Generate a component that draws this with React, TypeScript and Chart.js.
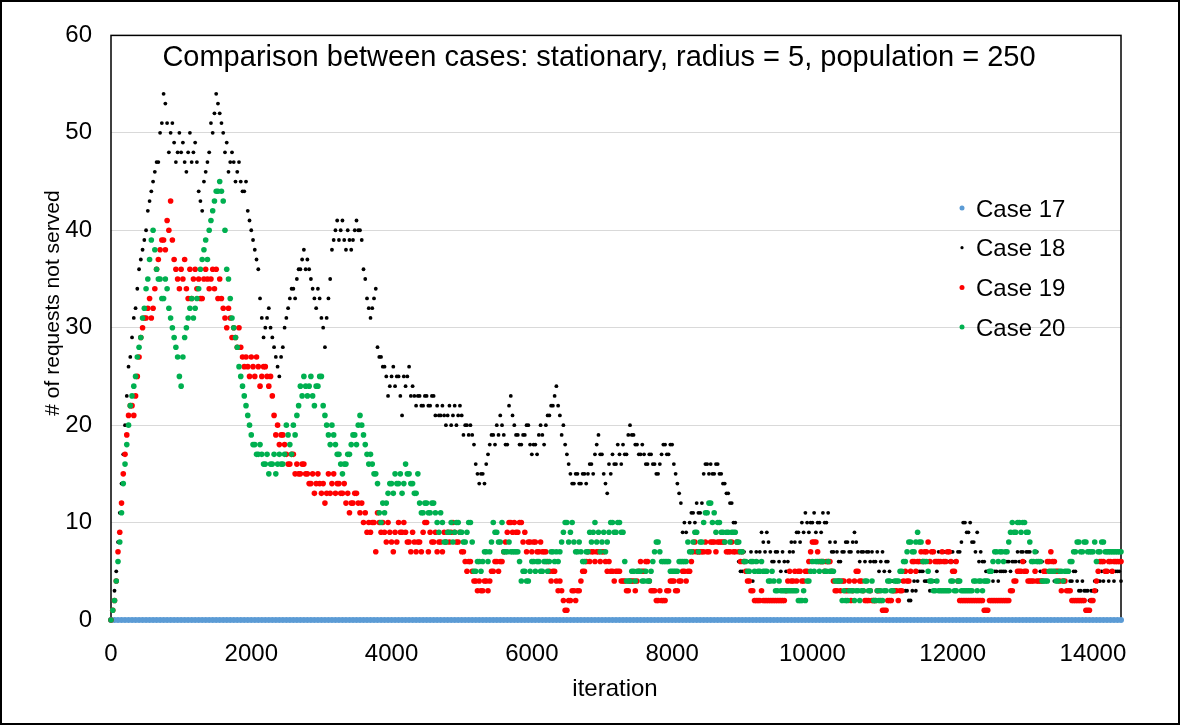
import { useEffect, useRef } from 'react'
import Chart from 'chart.js/auto'
import type { Plugin } from 'chart.js'

// samples every STEP iterations from 0 to X_MAX; the *Half arrays sit halfway between them
const STEP = 50
const X_MAX = 14400
const X_TICKS = [0, 2000, 4000, 6000, 8000, 10000, 12000, 14000]
const Y_MAX = 60
const Y_STEP = 10

const TITLE = 'Comparison between cases: stationary, radius = 5, population = 250'
const X_LABEL = 'iteration'
const Y_LABEL = '# of requests not served'

const SERIES_NAMES = ['Case 17', 'Case 18', 'Case 19', 'Case 20']
const SERIES_COLORS = ['#5B9BD5', '#000000', '#FF0000', '#00B050']
const POINT_RADII = [3, 1.9, 2.8, 2.8]
const LEGEND_RADII = [2.5, 1.6, 2.5, 2.5]

const case17 = [
  0, 0, 0, 0, 0, 0, 0, 0, 0, 0, 0, 0, 0, 0, 0, 0, 0, 0, 0, 0,
  0, 0, 0, 0, 0, 0, 0, 0, 0, 0, 0, 0, 0, 0, 0, 0, 0, 0, 0, 0,
  0, 0, 0, 0, 0, 0, 0, 0, 0, 0, 0, 0, 0, 0, 0, 0, 0, 0, 0, 0,
  0, 0, 0, 0, 0, 0, 0, 0, 0, 0, 0, 0, 0, 0, 0, 0, 0, 0, 0, 0,
  0, 0, 0, 0, 0, 0, 0, 0, 0, 0, 0, 0, 0, 0, 0, 0, 0, 0, 0, 0,
  0, 0, 0, 0, 0, 0, 0, 0, 0, 0, 0, 0, 0, 0, 0, 0, 0, 0, 0, 0,
  0, 0, 0, 0, 0, 0, 0, 0, 0, 0, 0, 0, 0, 0, 0, 0, 0, 0, 0, 0,
  0, 0, 0, 0, 0, 0, 0, 0, 0, 0, 0, 0, 0, 0, 0, 0, 0, 0, 0, 0,
  0, 0, 0, 0, 0, 0, 0, 0, 0, 0, 0, 0, 0, 0, 0, 0, 0, 0, 0, 0,
  0, 0, 0, 0, 0, 0, 0, 0, 0, 0, 0, 0, 0, 0, 0, 0, 0, 0, 0, 0,
  0, 0, 0, 0, 0, 0, 0, 0, 0, 0, 0, 0, 0, 0, 0, 0, 0, 0, 0, 0,
  0, 0, 0, 0, 0, 0, 0, 0, 0, 0, 0, 0, 0, 0, 0, 0, 0, 0, 0, 0,
  0, 0, 0, 0, 0, 0, 0, 0, 0, 0, 0, 0, 0, 0, 0, 0, 0, 0, 0, 0,
  0, 0, 0, 0, 0, 0, 0, 0, 0, 0, 0, 0, 0, 0, 0, 0, 0, 0, 0, 0,
  0, 0, 0, 0, 0, 0, 0, 0, 0,
]

const case18 = [
  0, 3, 8, 14, 20, 26, 29, 32, 36, 38, 40, 43, 45, 47, 50, 54, 51, 50, 49, 48,
  48, 47, 48, 47, 49, 44, 42, 46, 48, 50, 54, 52, 50, 49, 47, 47, 46, 45, 44, 42,
  40, 38, 36, 31, 30, 32, 29, 27, 25, 28, 31, 33, 34, 35, 36, 38, 37, 35, 33, 34,
  31, 28, 33, 38, 40, 39, 41, 38, 39, 39, 41, 40, 36, 33, 31, 33, 28, 27, 26, 23,
  25, 24, 25, 21, 24, 26, 24, 22, 23, 22, 23, 22, 23, 22, 21, 21, 21, 20, 22, 21,
  21, 20, 19, 19, 16, 14, 15, 16, 18, 19, 20, 21, 19, 18, 23, 20, 19, 18, 19, 20,
  17, 18, 19, 19, 20, 21, 22, 24, 21, 20, 17, 15, 14, 15, 14, 15, 15, 16, 17, 19,
  17, 14, 16, 17, 16, 17, 18, 17, 20, 19, 18, 17, 17, 16, 17, 16, 15, 17, 18, 17,
  18, 15, 13, 9, 9, 10, 11, 12, 11, 15, 16, 16, 15, 16, 15, 14, 13, 12, 10, 6,
  5, 6, 6, 4, 7, 7, 8, 9, 7, 6, 7, 5, 6, 6, 8, 8, 9, 10, 11, 9,
  10, 9, 10, 11, 10, 8, 7, 7, 6, 7, 8, 7, 9, 7, 7, 6, 7, 7, 6, 5,
  7, 6, 5, 4, 4, 3, 4, 3, 2, 4, 4, 5, 4, 4, 4, 4, 7, 7, 7, 6,
  7, 6, 7, 10, 9, 10, 8, 9, 7, 6, 5, 5, 5, 4, 5, 5, 6, 6, 6, 6,
  7, 7, 7, 6, 7, 5, 5, 5, 5, 4, 5, 5, 5, 5, 4, 5, 3, 4, 3, 2,
  3, 3, 4, 4, 5, 5, 4, 5, 4,
]

const case18Half = [
  1, 5, 11, 17, 23, 27, 31, 34, 37, 39, 42, 44, 46, 47, 51, 53, 48, 51, 47, 50,
  49, 46, 50, 48, 47, 43, 45, 47, 51, 52, 53, 51, 48, 46, 48, 45, 47, 44, 45, 41,
  39, 37, 33, 29, 31, 30, 28, 26, 27, 30, 32, 34, 33, 36, 37, 36, 36, 34, 32, 33,
  30, 31, 35, 39, 41, 40, 39, 40, 38, 40, 40, 39, 35, 32, 32, 34, 27, 26, 25, 24,
  26, 25, 23, 25, 25, 23, 23, 23, 22, 23, 22, 23, 21, 21, 22, 20, 22, 21, 20, 22,
  19, 20, 20, 18, 15, 15, 14, 17, 19, 18, 19, 20, 18, 22, 21, 19, 18, 19, 20, 18,
  18, 17, 20, 18, 21, 22, 23, 22, 19, 18, 16, 14, 15, 14, 15, 14, 16, 15, 18, 17,
  15, 13, 15, 16, 18, 16, 17, 19, 19, 18, 17, 18, 16, 17, 16, 15, 16, 18, 17, 18,
  16, 14, 12, 10, 8, 11, 10, 11, 12, 16, 15, 15, 16, 15, 14, 13, 12, 10, 8, 5,
  7, 5, 7, 5, 6, 9, 7, 8, 6, 7, 6, 7, 5, 7, 7, 9, 8, 9, 10, 10,
  11, 10, 9, 10, 11, 7, 8, 6, 7, 8, 7, 8, 8, 6, 7, 7, 6, 6, 7, 6,
  5, 6, 4, 3, 4, 4, 3, 2, 3, 3, 5, 5, 4, 3, 4, 5, 6, 7, 6, 7,
  6, 7, 8, 10, 9, 8, 7, 6, 6, 5, 5, 4, 5, 5, 5, 6, 5, 6, 7, 7,
  6, 7, 6, 7, 6, 6, 5, 5, 5, 5, 5, 4, 5, 4, 5, 4, 3, 3, 3, 3,
  4, 4, 5, 5, 4, 5, 5, 5,
]

const case19 = [
  0, 2, 7, 12, 17, 21, 22, 23, 27, 30, 31, 33, 32, 36, 38, 39, 41, 43, 37, 35,
  36, 37, 33, 33, 36, 35, 33, 36, 34, 36, 36, 35, 32, 30, 31, 30, 28, 28, 26, 26,
  27, 25, 26, 25, 26, 24, 23, 19, 18, 19, 17, 16, 17, 16, 15, 16, 15, 14, 13, 15,
  13, 12, 15, 14, 13, 14, 13, 12, 11, 12, 13, 11, 10, 9, 9, 10, 11, 9, 9, 10,
  8, 9, 10, 9, 9, 8, 9, 7, 8, 9, 10, 9, 8, 7, 8, 9, 9, 9, 9, 8,
  7, 6, 6, 5, 4, 4, 3, 4, 4, 5, 6, 6, 7, 9, 10, 10, 9, 10, 9, 8,
  7, 8, 7, 7, 7, 5, 5, 4, 4, 2, 1, 2, 3, 3, 4, 5, 7, 7, 6, 7,
  7, 6, 6, 5, 5, 5, 4, 3, 4, 4, 4, 6, 5, 6, 3, 3, 2, 2, 2, 3,
  4, 3, 4, 5, 4, 5, 7, 7, 7, 7, 7, 8, 8, 8, 8, 8, 7, 8, 7, 7,
  7, 5, 4, 3, 2, 2, 2, 2, 2, 2, 2, 2, 2, 4, 4, 5, 5, 4, 5, 6,
  8, 8, 6, 6, 6, 6, 4, 3, 3, 4, 3, 2, 4, 5, 4, 2, 2, 2, 2, 3,
  1, 1, 2, 3, 3, 3, 4, 4, 5, 6, 6, 7, 7, 8, 7, 6, 6, 7, 6, 7,
  5, 6, 2, 2, 2, 2, 2, 2, 2, 1, 1, 2, 2, 2, 2, 2, 2, 3, 4, 5,
  6, 5, 4, 4, 4, 4, 5, 6, 7, 6, 5, 3, 4, 3, 2, 2, 2, 2, 1, 1,
  2, 4, 6, 6, 5, 6, 6, 6, 6,
]

const case19Half = [
  1, 4, 9, 15, 19, 22, 21, 25, 29, 31, 32, 31, 34, 37, 39, 38, 40, 39, 36, 34,
  35, 34, 36, 35, 34, 33, 35, 35, 35, 34, 33, 33, 31, 32, 29, 29, 30, 27, 27, 25,
  26, 27, 24, 26, 25, 25, 21, 20, 19, 18, 16, 17, 15, 15, 16, 15, 14, 15, 14, 14,
  14, 13, 13, 15, 14, 13, 14, 13, 12, 13, 12, 12, 11, 10, 10, 7, 10, 10, 8, 9,
  7, 8, 9, 10, 8, 7, 8, 8, 7, 10, 7, 8, 9, 8, 7, 8, 8, 10, 8, 9,
  7, 5, 6, 4, 3, 3, 4, 3, 5, 6, 5, 6, 8, 10, 9, 9, 10, 8, 7, 8,
  8, 7, 8, 7, 6, 4, 5, 3, 3, 1, 2, 3, 2, 3, 5, 6, 6, 7, 7, 6,
  7, 5, 5, 4, 5, 4, 4, 3, 4, 3, 5, 5, 6, 4, 3, 2, 3, 2, 3, 4,
  4, 3, 4, 5, 5, 6, 8, 7, 7, 8, 7, 8, 7, 8, 8, 7, 7, 7, 8, 6,
  6, 4, 3, 2, 2, 3, 2, 2, 2, 2, 2, 2, 3, 5, 4, 4, 5, 4, 5, 7,
  8, 7, 6, 5, 6, 5, 3, 4, 4, 3, 4, 3, 5, 4, 3, 2, 3, 2, 3, 2,
  1, 2, 2, 3, 2, 3, 5, 4, 6, 5, 6, 6, 7, 6, 7, 6, 6, 6, 7, 6,
  5, 4, 2, 2, 2, 2, 2, 2, 2, 1, 2, 2, 2, 2, 2, 2, 3, 4, 5, 5,
  5, 4, 4, 5, 4, 4, 5, 6, 6, 5, 4, 4, 3, 3, 2, 2, 2, 2, 1, 2,
  3, 5, 6, 5, 6, 5, 6, 6,
]

const case20 = [
  0, 2, 6, 11, 16, 20, 23, 25, 28, 31, 34, 37, 40, 36, 35, 33, 34, 31, 29, 27,
  24, 29, 31, 33, 32, 34, 37, 39, 40, 42, 44, 45, 43, 36, 33, 30, 28, 25, 23, 21,
  19, 18, 17, 17, 16, 15, 16, 15, 17, 16, 20, 18, 20, 21, 24, 25, 23, 25, 22, 24,
  25, 21, 19, 20, 18, 17, 15, 16, 17, 19, 18, 21, 19, 17, 17, 15, 14, 10, 11, 13,
  14, 15, 14, 13, 16, 15, 14, 13, 12, 11, 12, 11, 12, 10, 11, 8, 9, 10, 9, 10,
  9, 8, 10, 8, 5, 6, 6, 7, 7, 10, 9, 8, 7, 7, 7, 7, 7, 4, 5, 4,
  6, 5, 6, 5, 6, 6, 7, 7, 7, 9, 10, 9, 8, 7, 7, 6, 7, 8, 10, 9,
  8, 7, 9, 10, 9, 10, 9, 4, 4, 5, 5, 5, 4, 4, 5, 7, 8, 6, 6, 6,
  5, 5, 6, 6, 6, 7, 8, 9, 8, 10, 11, 12, 11, 10, 9, 8, 9, 9, 9, 8,
  7, 6, 5, 6, 6, 5, 5, 5, 4, 4, 3, 3, 3, 3, 3, 3, 2, 2, 2, 4,
  6, 6, 5, 6, 5, 5, 5, 4, 4, 3, 2, 3, 2, 3, 3, 4, 3, 4, 2, 2,
  2, 3, 4, 3, 4, 5, 6, 7, 8, 7, 9, 8, 6, 5, 4, 3, 3, 3, 3, 3,
  4, 3, 4, 3, 3, 3, 4, 3, 4, 4, 4, 5, 7, 6, 7, 7, 8, 10, 9, 10,
  10, 9, 8, 6, 6, 6, 4, 4, 5, 5, 4, 5, 5, 5, 6, 7, 8, 7, 8, 7,
  7, 6, 7, 8, 7, 7, 7, 7, 7,
]

const case20Half = [
  1, 4, 8, 14, 18, 22, 24, 27, 29, 32, 35, 39, 38, 35, 33, 35, 32, 30, 28, 25,
  27, 30, 32, 31, 33, 36, 38, 37, 41, 43, 44, 44, 40, 35, 31, 29, 26, 24, 22, 20,
  18, 17, 18, 16, 17, 16, 17, 16, 16, 17, 19, 17, 19, 22, 23, 24, 24, 23, 24, 25,
  22, 20, 18, 19, 17, 16, 16, 17, 18, 19, 20, 20, 18, 16, 16, 15, 11, 12, 12, 14,
  13, 14, 15, 14, 15, 14, 13, 15, 11, 12, 11, 12, 11, 9, 10, 8, 9, 8, 10, 9,
  8, 9, 10, 5, 6, 5, 7, 6, 8, 9, 8, 10, 7, 8, 7, 7, 6, 5, 4, 5,
  6, 6, 5, 6, 5, 7, 6, 6, 8, 10, 8, 10, 7, 8, 6, 7, 9, 9, 8, 7,
  9, 8, 10, 9, 10, 9, 6, 4, 5, 4, 5, 4, 5, 4, 6, 8, 7, 6, 6, 5,
  5, 5, 6, 6, 8, 7, 9, 7, 8, 11, 12, 10, 9, 10, 9, 9, 8, 9, 8, 7,
  6, 5, 6, 5, 5, 6, 5, 4, 5, 3, 4, 3, 3, 3, 3, 3, 2, 3, 4, 5,
  5, 6, 6, 5, 6, 5, 4, 4, 2, 2, 3, 3, 3, 2, 3, 4, 3, 2, 3, 3,
  3, 4, 3, 4, 4, 5, 6, 8, 7, 8, 8, 6, 6, 4, 3, 4, 3, 3, 3, 4,
  3, 4, 3, 3, 3, 3, 4, 4, 3, 4, 5, 6, 7, 7, 6, 7, 9, 9, 10, 9,
  10, 9, 6, 7, 6, 4, 4, 5, 5, 4, 5, 4, 5, 6, 7, 8, 7, 8, 7, 7,
  8, 7, 8, 7, 7, 7, 7, 7,
]

const SERIES = [
  { main: case17, half: [] as number[] },
  { main: case18, half: case18Half },
  { main: case19, half: case19Half },
  { main: case20, half: case20Half },
]

const FONT = '"Liberation Sans", Arial, sans-serif'

const overlay: Plugin<'scatter'> = {
  id: 'overlay',
  beforeDatasetsDraw(chart) {
    const { ctx, chartArea: a } = chart
    ctx.save()
    ctx.strokeStyle = '#000'
    ctx.lineWidth = 1.5
    ctx.strokeRect(a.left, a.top, a.right - a.left, a.bottom - a.top)
    ctx.restore()
  },
  afterDraw(chart) {
    const { ctx, chartArea: a } = chart
    ctx.save()
    ctx.fillStyle = '#000'
    ctx.textBaseline = 'alphabetic'

    ctx.textAlign = 'center'
    ctx.font = `29px ${FONT}`
    ctx.fillText(TITLE, 597, 64)

    ctx.font = `24px ${FONT}`
    ctx.fillText(X_LABEL, (a.left + a.right) / 2 - 1, 694)

    ctx.save()
    ctx.translate(57, 301)
    ctx.rotate(-Math.PI / 2)
    ctx.font = `21px ${FONT}`
    ctx.fillText(Y_LABEL, 0, 0)
    ctx.restore()

    // legend
    ctx.textAlign = 'left'
    ctx.font = `24px ${FONT}`
    SERIES_NAMES.forEach((name, i) => {
      const cy = 206 + i * 39.7
      ctx.fillStyle = SERIES_COLORS[i]
      ctx.beginPath()
      ctx.arc(960, cy, LEGEND_RADII[i], 0, Math.PI * 2)
      ctx.fill()
      ctx.fillStyle = '#000'
      ctx.fillText(name, 974, cy + 8.6)
    })
    ctx.restore()
  },
}

export default function App() {
  const canvasRef = useRef<HTMLCanvasElement>(null)
  const chartRef = useRef<Chart | null>(null)

  useEffect(() => {
    document.body.style.margin = '0'
    if (!canvasRef.current) return
    if (chartRef.current) chartRef.current.destroy()

    chartRef.current = new Chart(canvasRef.current, {
      type: 'scatter',
      data: {
        datasets: SERIES.map((s, i) => ({
          label: SERIES_NAMES[i],
          data: [
            ...s.main.map((y, j) => ({ x: j * STEP, y })),
            ...s.half.map((y, j) => ({ x: j * STEP + STEP / 2, y })),
          ],
          pointRadius: POINT_RADII[i],
          pointBorderWidth: 0,
          pointBackgroundColor: SERIES_COLORS[i],
          borderColor: SERIES_COLORS[i],
          backgroundColor: SERIES_COLORS[i],
          order: SERIES.length - i,
          clip: false,
        })),
      },
      options: {
        responsive: false,
        animation: false,
        layout: { padding: { left: 0, right: 57, top: 23, bottom: 0 } },
        plugins: {
          legend: { display: false },
          tooltip: { enabled: false },
        },
        scales: {
          x: {
            type: 'linear',
            min: 0,
            max: X_MAX,
            afterFit: (scale) => { scale.height = 103 },
            afterBuildTicks: (scale) => { scale.ticks = X_TICKS.map((value) => ({ value })) },
            ticks: {
              maxRotation: 0,
              autoSkip: false,
              color: '#000',
              padding: 20,
              font: { family: FONT, size: 24 },
              callback: (v) => String(v),
            },
            grid: { display: false, drawTicks: false },
            border: { display: false },
          },
          y: {
            min: 0,
            max: Y_MAX,
            afterFit: (scale) => { scale.width = 109 },
            ticks: {
              stepSize: Y_STEP,
              color: '#000',
              padding: 19,
              font: { family: FONT, size: 24 },
            },
            grid: { color: '#D9D9D9', lineWidth: 1, drawTicks: false },
            border: { display: false },
          },
        },
      },
      plugins: [overlay],
    })

    return () => { chartRef.current?.destroy() }
  }, [])

  return (
    <div style={{ width: 1180, height: 725, boxSizing: 'border-box', border: '2px solid #000', background: '#fff' }}>
      <canvas ref={canvasRef} width={1176} height={721} />
    </div>
  )
}
